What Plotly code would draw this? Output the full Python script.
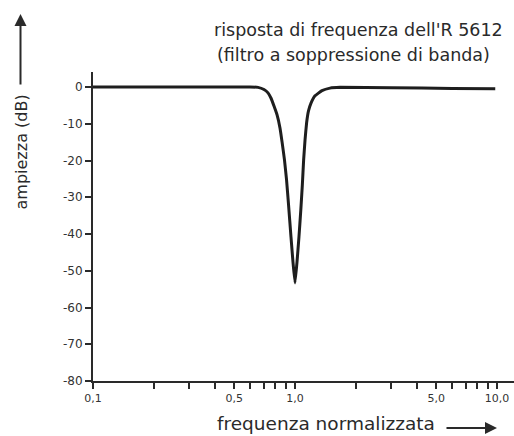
import plotly.graph_objects as go

# Frequency response of the R 5612 band-stop (notch) filter
freq = [0.1, 0.3, 0.598, 0.656, 0.702, 0.735, 0.760, 0.787, 0.815, 0.843, 0.863,
        0.887, 0.908, 0.929, 0.955, 0.977, 1.0,
        1.023, 1.046, 1.068, 1.087, 1.103, 1.121, 1.141, 1.166, 1.200, 1.256,
        1.36, 1.49, 1.67, 3.0, 6.0, 9.8]
gain_db = [0, 0, 0, -0.1, -0.7, -1.6, -3.0, -5.2, -7.6, -11.2, -15.0,
           -19.9, -25.3, -32.1, -40.8, -47.6, -53.3,
           -47.6, -40.8, -33.5, -26.7, -19.9, -14.4, -9.8, -6.5, -4.4, -2.4,
           -1.0, -0.3, -0.1, -0.2, -0.4, -0.5]

x_tickvals = [0.1, 0.2, 0.3, 0.4, 0.5, 0.6, 0.7, 0.8, 0.9, 1.0,
              2, 3, 4, 5, 6, 7, 8, 9, 10]
x_ticktext = ["0,1", "", "", "", "0,5", "", "", "", "", "1,0",
              "", "", "", "5,0", "", "", "", "", "10,0"]
y_tickvals = [0, -10, -20, -30, -40, -50, -60, -70, -80]
y_ticktext = ["0", "-10", "-20", "-30", "-40", "-50", "-60", "-70", "-80"]

title_line1 = "risposta di frequenza dell'R 5612"
title_line2 = "(filtro a soppressione di banda)"
x_title = "frequenza normalizzata"
y_title = "ampiezza (dB)"

ink = "#2a2a2a"
font_fam = "DejaVu Sans"

fig = go.Figure()
fig.add_trace(go.Scatter(
    x=freq, y=gain_db, mode="lines",
    line=dict(color="#1e1e1e", width=3, shape="spline", smoothing=0.3),
    hoverinfo="skip", showlegend=False,
))

fig.update_layout(
    width=514, height=436,
    margin=dict(l=93, r=0, t=72, b=55),
    paper_bgcolor="white", plot_bgcolor="white",
    showlegend=False,
    xaxis=dict(
        type="log", range=[-1, 1.084],
        tickmode="array", tickvals=x_tickvals, ticktext=x_ticktext,
        ticks="outside", ticklen=6, tickwidth=1.5, tickcolor=ink,
        showline=True, linecolor=ink, linewidth=2,
        showgrid=False, zeroline=False,
        tickfont=dict(family=font_fam, size=11, color="#333"),
    ),
    yaxis=dict(
        range=[-80, 4.08],
        tickmode="array", tickvals=y_tickvals, ticktext=y_ticktext,
        ticks="outside", ticklen=6, tickwidth=1.5, tickcolor=ink,
        showline=True, linecolor=ink, linewidth=2,
        showgrid=False, zeroline=False,
        tickfont=dict(family=font_fam, size=12, color="#333"),
    ),
)

annotations = [
    dict(text=title_line1, x=0.283, y=1.136, xanchor="left", yanchor="middle",
         font=dict(family=font_fam, size=17.5, color=ink)),
    dict(text=title_line2, x=0.290, y=1.055, xanchor="left", yanchor="middle",
         font=dict(family=font_fam, size=17.5, color=ink)),
    dict(text=x_title, x=0.2898, y=-0.139, xanchor="left", yanchor="middle",
         font=dict(family=font_fam, size=18.5, color=ink)),
    dict(text=y_title, x=-0.171, y=0.7395, xanchor="center", yanchor="middle",
         textangle=-90, font=dict(family=font_fam, size=16, color=ink)),
]
for a in annotations:
    a.update(xref="paper", yref="paper", showarrow=False)

# axis direction arrows
annotations.append(dict(
    x=-0.1722, y=1.1877, xref="paper", yref="paper", text="",
    showarrow=True, ax=0, ay=72, arrowhead=2, arrowsize=1.2,
    arrowwidth=2, arrowcolor=ink,
))
annotations.append(dict(
    x=0.9596, y=-0.152, xref="paper", yref="paper", text="",
    showarrow=True, ax=-52, ay=0, arrowhead=2, arrowsize=1.2,
    arrowwidth=2, arrowcolor=ink,
))
fig.update_layout(annotations=annotations)

fig.write_html("out.html")
